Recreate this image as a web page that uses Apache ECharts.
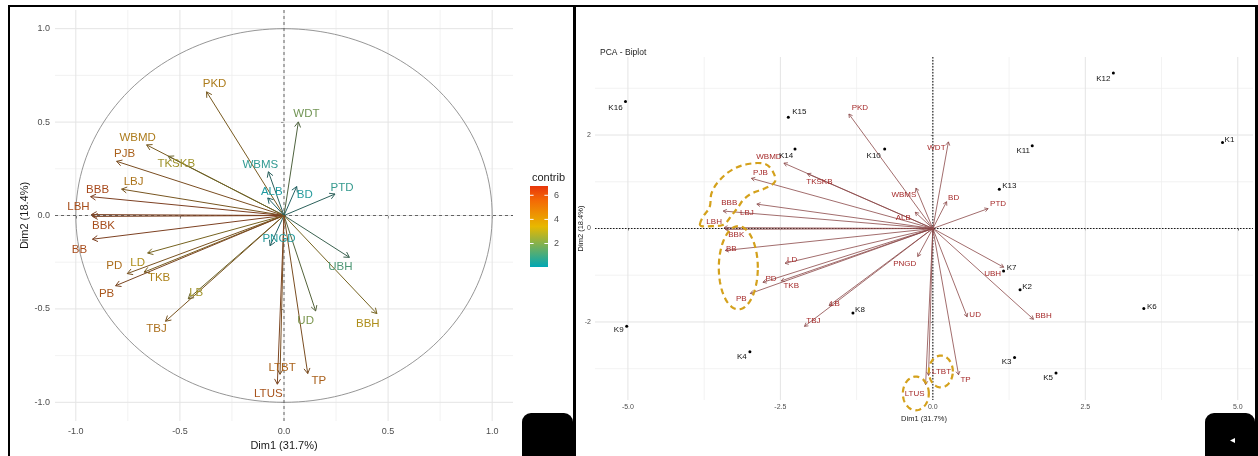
<!DOCTYPE html>
<html><head><meta charset="utf-8">
<script src="https://cdn.jsdelivr.net/npm/echarts@6/dist/echarts.min.js"></script>
<style>html,body{margin:0;padding:0;background:#fff}#c{width:1258px;height:456px}</style>
</head><body><div id="c"></div>
<script>
// ---------------- DATA ----------------
const varNames = ['PKD','WDT','WBMD','TKSKB','PJB','LBJ','BBB','LBH','BBK','WBMS','ALB','BD','PTD','UBH','PNGD','BBH','UD','TP','LTBT','LTUS','BB','LD','PD','TKB','PB','LB','TBJ'];
const varDim1 = [-0.372,0.069,-0.660,-0.556,-0.804,-0.780,-0.929,-0.925,-0.920,-0.075,-0.078,0.061,0.245,0.314,-0.067,0.446,0.152,0.114,-0.019,-0.032,-0.920,-0.655,-0.753,-0.672,-0.809,-0.460,-0.569];
const varDim2 = [0.662,0.501,0.378,0.317,0.290,0.141,0.101,0.005,-0.005,0.234,0.094,0.155,0.115,-0.224,-0.162,-0.525,-0.511,-0.846,-0.850,-0.903,-0.127,-0.201,-0.311,-0.303,-0.376,-0.446,-0.566];
const varContrib = [4.3,1.9,4.3,3.0,5.4,4.6,6.5,6.3,6.3,0.45,0.11,0.2,0.54,1.1,0.23,3.5,2.1,5.4,5.3,6.0,6.4,3.5,4.9,4.0,5.9,3.0,4.8];
const biplotVarScale = 3.7;
const indNames = ['K1','K2','K3','K4','K5','K6','K7','K8','K9','K10','K11','K12','K13','K14','K15','K16'];
const indDim1 = [4.75,1.43,1.34,-3.00,2.02,3.46,1.16,-1.31,-5.02,-0.79,1.63,2.96,1.09,-2.26,-2.37,-5.04];
const indDim2 = [1.84,-1.31,-2.76,-2.64,-3.09,-1.71,-0.91,-1.81,-2.09,1.70,1.77,3.33,0.84,1.70,2.38,2.72];
const corTicks = [-1,-0.5,0,0.5,1];
const corMinor = [-0.75,-0.25,0.25,0.75];
const bipXTicks = [-5,-2.5,0,2.5,5];
const bipXMinor = [-3.75,-1.25,1.25,3.75];
const bipYTicks = [-2,0,2];
const bipYMinor = [-3,-1,1,3];
const contribTicks = [2,4,6];
const contribRange = [0.05,6.77];
// annotation outlines (data coords of biplot)
const annotEllipses = [[-3.19,-0.84,0.32,0.89],[0.131,-3.06,0.197,0.34],[-0.279,-3.53,0.213,0.36]];
const annotBlob = [[-3.82,0.09],[-3.77,0.25],[-3.66,0.46],[-3.63,0.75],[-3.52,1.00],[-3.30,1.25],[-3.03,1.38],[-2.75,1.38],[-2.62,1.21],[-2.59,1.00],[-2.75,0.86],[-2.97,0.75],[-3.11,0.61],[-3.19,0.46],[-3.30,0.28],[-3.38,0.14],[-3.46,0.07],[-3.63,0.05],[-3.79,0.05]];

// ---------------- LAYOUT / STYLE ----------------
const labelOffL = {PKD:[8,-8],WDT:[8,-8],WBMD:[-9,-7],TKSKB:[8,8],PJB:[8,-7],LBJ:[12,-7],BBB:[7,-7],LBH:[-13,-8],BBK:[11,9],WBMS:[-8,-7],ALB:[4,-6],BD:[8,8],PTD:[7,-6],UBH:[-9,9],PNGD:[9,-7],BBH:[-9,10],UD:[-10,10],TP:[11,7],LTBT:[2,-6],LTUS:[-9,10],BB:[-13,11],LD:[-10,10],PD:[-13,-8],TKB:[15,6],PB:[-9,8],LB:[8,-6],TBJ:[-9,8]};
const labelOffR = {PKD:[11,-6],WDT:[-12,6],WBMD:[-15,-6],TKSKB:[12,8],PJB:[9,-6],LBJ:[-10,9],BBB:[6,-8],LBH:[-10,-6],BBK:[11,5],BB:[6,-2],LD:[7,-3],PD:[8,-3],TKB:[10,5],PB:[-9,5],LB:[6,-2],TBJ:[9,-6],PNGD:[-13,7],WBMS:[-12,7],ALB:[-12,6],BD:[7,-4],PTD:[10,-5],UBH:[-11,7],BBH:[10,-3],UD:[8,-2],TP:[7,5],LTBT:[13,-4],LTUS:[-11,9]};
const indOff = {K1:[7,-3],K2:[7,-3],K3:[-8,4],K4:[-8,5],K5:[-8,5],K6:[8,-2],K7:[8,-3],K8:[7,-3],K9:[-8,4],K10:[-11,7],K11:[-9,5],K12:[-10,6],K13:[10,-3],K14:[-9,7],K15:[11,-5],K16:[-10,6]};
const FONT = '"Liberation Sans", Arial, Helvetica, sans-serif';
const gradStops = [[0,175,187],[231,184,0],[252,78,7]];
function contribT(c){ return Math.max(0, Math.min(1,(c-contribRange[0])/(contribRange[1]-contribRange[0]))); }
function contribRGB(c){
  const t = contribT(c);
  let a,b,u;
  if (t<0.5){a=gradStops[0];b=gradStops[1];u=t/0.5;} else {a=gradStops[1];b=gradStops[2];u=(t-0.5)/0.5;}
  return [0,1,2].map(k=>a[k]+(b[k]-a[k])*u);
}
function shade(rgb, desat, k){ return 'rgb(' + rgb.map(v=>Math.max(0,Math.min(255,Math.round((v*(1-desat)+128*desat)*k)))).join(',') + ')'; }

function guideRender(xMaj, xMin, yMaj, yMin){
  return function(params, api){
    const cs = params.coordSys; const ch = [];
    const add = (vals, isX, st) => vals.forEach(v => {
      if (isX){ const px = api.coord([v,0])[0]; ch.push({type:'line', shape:{x1:px,y1:cs.y,x2:px,y2:cs.y+cs.height}, style:st}); }
      else { const py = api.coord([0,v])[1]; ch.push({type:'line', shape:{x1:cs.x,y1:py,x2:cs.x+cs.width,y2:py}, style:st}); }
    });
    const minorSt = {stroke:'#efefef', lineWidth:0.8};
    const majorSt = {stroke:'#e4e4e4', lineWidth:1};
    add(xMin,true,minorSt); add(yMin,false,minorSt); add(xMaj,true,majorSt); add(yMaj,false,majorSt);
    return {type:'group', children:ch};
  };
}
function zeroRender(color, dash, lw){
  return function(params, api){
    const cs = params.coordSys; const o = api.coord([0,0]);
    return {type:'group', children:[
      {type:'line', shape:{x1:o[0],y1:cs.y,x2:o[0],y2:cs.y+cs.height}, style:{stroke:color,lineWidth:lw,lineDash:dash}},
      {type:'line', shape:{x1:cs.x,y1:o[1],x2:cs.x+cs.width,y2:o[1]}, style:{stroke:color,lineWidth:lw,lineDash:dash}}
    ]};
  };
}
function arrowRender(opts){
  return function(params, api){
    const i = params.dataIndex;
    const o = api.coord([0,0]);
    const p = api.coord([api.value(0), api.value(1)]);
    const ang = Math.atan2(p[1]-o[1], p[0]-o[0]);
    const h = opts.head, w = Math.PI/6;
    const h1 = [p[0]-h*Math.cos(ang-w), p[1]-h*Math.sin(ang-w)];
    const h2 = [p[0]-h*Math.cos(ang+w), p[1]-h*Math.sin(ang+w)];
    const name = varNames[i];
    const off = opts.offs[name] || [0,0];
    const lc = opts.lineColor(i), tc = opts.textColor(i);
    return {type:'group', children:[
      {type:'line', shape:{x1:o[0],y1:o[1],x2:p[0],y2:p[1]}, style:{stroke:lc,lineWidth:opts.lw}},
      {type:'polyline', shape:{points:[h1,p,h2]}, style:{stroke:lc,fill:'none',lineWidth:opts.lw}},
      {type:'text', z2:20, style:{x:p[0]+off[0], y:p[1]+off[1], text:name, fill:tc, font:opts.font, textAlign:'center', textVerticalAlign:'middle', align:'center', verticalAlign:'middle'}}
    ]};
  };
}

const chart = echarts.init(document.getElementById('c'), null, {renderer:'canvas'});
const axisTxt = (size) => ({color:'#4d4d4d', fontSize:size, fontFamily:FONT});

const option = {
  animation:false,
  backgroundColor:'#fff',
  title:[
    {text:'PCA - Biplot', left:595, top:43, textStyle:{fontSize:8.5, fontWeight:'normal', color:'#222', fontFamily:FONT}},
    {text:'contrib', left:527, top:167, textStyle:{fontSize:11, fontWeight:'normal', color:'#222', fontFamily:FONT}}
  ],
  grid:[
    {left:55, top:10, width:458, height:417},
    {left:530, top:186, width:18, height:81},
    {left:595, top:57, width:658, height:343}
  ],
  xAxis:[
    {gridIndex:0, type:'value', min:-1.1, max:1.1, splitLine:{show:false}, axisLine:{show:false},
     axisTick:{show:true, customValues:corTicks, length:3, lineStyle:{color:'#333'}},
     axisLabel:{customValues:corTicks, margin:6, formatter:v=>v.toFixed(1), ...axisTxt(9)},
     name:'Dim1 (31.7%)', nameLocation:'middle', nameGap:16, nameMoveOverlap:false, nameTextStyle:{fontSize:11, color:'#1a1a1a', fontFamily:FONT, verticalAlign:'top', padding:[3,0,0,0]}},
    {gridIndex:1, type:'value', min:0, max:1, show:false},
    {gridIndex:2, type:'value', min:-5.54, max:5.25, splitLine:{show:false}, axisLine:{show:false},
     axisTick:{show:true, customValues:bipXTicks, length:2, lineStyle:{color:'#333'}},
     axisLabel:{customValues:bipXTicks, margin:4, formatter:v=>v.toFixed(1), ...axisTxt(7)},
     name:'Dim1 (31.7%)', nameLocation:'middle', nameGap:15, nameMoveOverlap:false, nameTextStyle:{fontSize:7.5, color:'#1a1a1a', fontFamily:FONT, verticalAlign:'top'}}
  ],
  yAxis:[
    {gridIndex:0, type:'value', min:-1.1, max:1.1, splitLine:{show:false}, axisLine:{show:false},
     axisTick:{show:true, customValues:corTicks, length:3, lineStyle:{color:'#333'}},
     axisLabel:{customValues:corTicks, margin:5, formatter:v=>v.toFixed(1), ...axisTxt(9)},
     name:'Dim2 (18.4%)', nameLocation:'middle', nameGap:25, nameRotate:90, nameMoveOverlap:false, nameTextStyle:{fontSize:11, color:'#1a1a1a', fontFamily:FONT}},
    {gridIndex:1, type:'value', min:contribRange[0], max:contribRange[1], position:'right', splitLine:{show:false}, axisLine:{show:false}, axisTick:{show:false},
     axisLabel:{customValues:contribTicks, margin:6, ...axisTxt(9)}},
    {gridIndex:2, type:'value', min:-3.67, max:3.67, splitLine:{show:false}, axisLine:{show:false},
     axisTick:{show:true, customValues:bipYTicks, length:2, lineStyle:{color:'#333'}},
     axisLabel:{customValues:bipYTicks, margin:4, ...axisTxt(7)},
     name:'Dim2 (18.4%)', nameLocation:'middle', nameGap:10, nameRotate:90, nameMoveOverlap:false, nameTextStyle:{fontSize:7.5, color:'#1a1a1a', fontFamily:FONT}}
  ],
  series:[
    {type:'custom', xAxisIndex:0, yAxisIndex:0, z:1, silent:true, data:[[0,0]], renderItem:guideRender(corTicks,corMinor,corTicks,corMinor)},
    {type:'custom', xAxisIndex:0, yAxisIndex:0, z:2, silent:true, data:[[0,0]],
     renderItem:(params, api)=>{ const pts=[]; for(let k=0;k<=360;k+=2){const a=k*Math.PI/180; pts.push(api.coord([Math.cos(a),Math.sin(a)]));}
       return {type:'polyline', shape:{points:pts}, style:{stroke:'#8a8a8a', lineWidth:0.9, fill:'none'}}; }},
    {type:'custom', xAxisIndex:0, yAxisIndex:0, z:3, silent:true, data:[[0,0]], renderItem:zeroRender('#555',[3,3],0.9)},
    {type:'custom', xAxisIndex:0, yAxisIndex:0, z:4, silent:true,
     data:varNames.map((n,i)=>[varDim1[i],varDim2[i],varContrib[i]]),
     renderItem:arrowRender({head:6, lw:1, offs:labelOffL, font:'11.5px '+FONT,
       lineColor:i=>shade(contribRGB(varContrib[i]),0.4,0.62),
       textColor:i=>shade(contribRGB(varContrib[i]),0.25,0.95-0.2*contribT(varContrib[i]))})},
    {type:'custom', xAxisIndex:1, yAxisIndex:1, z:4, silent:true, data:[[0,0]],
     renderItem:(params, api)=>{
       const tl = api.coord([0,contribRange[1]]), br = api.coord([1,contribRange[0]]);
       const ch = [{type:'rect', shape:{x:tl[0],y:tl[1],width:br[0]-tl[0],height:br[1]-tl[1]},
         style:{fill:new echarts.graphic.LinearGradient(0,0,0,1,[{offset:0,color:'#e8360a'},{offset:0.18,color:'#f46a05'},{offset:0.5,color:'#e7b800'},{offset:1,color:'#00a7b5'}])}}];
       contribTicks.forEach(v=>{ const y=api.coord([0,v])[1]; const w=(br[0]-tl[0])/5;
         ch.push({type:'line',shape:{x1:tl[0],y1:y,x2:tl[0]+w,y2:y},style:{stroke:'#fff',lineWidth:1}});
         ch.push({type:'line',shape:{x1:br[0]-w,y1:y,x2:br[0],y2:y},style:{stroke:'#fff',lineWidth:1}}); });
       return {type:'group', children:ch}; }},
    {type:'custom', xAxisIndex:2, yAxisIndex:2, z:1, silent:true, data:[[0,0]], renderItem:guideRender(bipXTicks,bipXMinor,bipYTicks,bipYMinor)},
    {type:'custom', xAxisIndex:2, yAxisIndex:2, z:3, silent:true, data:[[0,0]], renderItem:zeroRender('#1a1a1a',[1.5,1.5],1.1)},
    {type:'custom', xAxisIndex:2, yAxisIndex:2, z:4, silent:true,
     data:varNames.map((n,i)=>[varDim1[i]*biplotVarScale,varDim2[i]*biplotVarScale]),
     renderItem:arrowRender({head:4, lw:0.8, offs:labelOffR, font:'8px '+FONT, lineColor:()=> '#8a4848', textColor:()=> '#a52a2a'})},
    {type:'custom', xAxisIndex:2, yAxisIndex:2, z:5, silent:true,
     data:indNames.map((n,i)=>[indDim1[i],indDim2[i]]),
     renderItem:(params, api)=>{ const i=params.dataIndex; const p=api.coord([api.value(0),api.value(1)]); const off=indOff[indNames[i]]||[0,0];
       return {type:'group', children:[
         {type:'circle', shape:{cx:p[0],cy:p[1],r:1.5}, style:{fill:'#000'}},
         {type:'text', style:{x:p[0]+off[0], y:p[1]+off[1], text:indNames[i], fill:'#111', font:'8px '+FONT, textAlign:'center', textVerticalAlign:'middle', align:'center', verticalAlign:'middle'}}
       ]}; }},
    {type:'custom', xAxisIndex:2, yAxisIndex:2, z:6, silent:true, data:[[0,0]],
     renderItem:(params, api)=>{
       const st = {stroke:'#d4a11c', lineWidth:2.2, lineDash:[6,4], fill:'none'};
       const ch = annotEllipses.map(e=>{ const pts=[]; for(let k=0;k<360;k+=5){const a=k*Math.PI/180; pts.push(api.coord([e[0]+e[2]*Math.cos(a), e[1]+e[3]*Math.sin(a)]));}
         return {type:'polygon', shape:{points:pts}, style:st}; });
       ch.push({type:'polygon', shape:{points:annotBlob.map(q=>api.coord(q)), smooth:0.35}, style:st});
       return {type:'group', children:ch}; }}
  ],
  graphic:[
    {type:'rect', shape:{x:8,y:5,width:1250,height:2}, style:{fill:'#000'}, z:100},
    {type:'rect', shape:{x:8,y:5,width:2,height:451}, style:{fill:'#000'}, z:100},
    {type:'rect', shape:{x:573,y:5,width:3,height:451}, style:{fill:'#000'}, z:100},
    {type:'rect', shape:{x:1255,y:5,width:3,height:451}, style:{fill:'#000'}, z:100},
    {type:'rect', shape:{x:522,y:413,width:51,height:50,r:[9,9,0,0]}, style:{fill:'#000'}, z:100},
    {type:'rect', shape:{x:1205,y:413,width:50,height:50,r:[9,9,0,0]}, style:{fill:'#000'}, z:100},
    {type:'polygon', shape:{points:[[1230,440.5],[1235,438],[1235,443]]}, style:{fill:'#fff'}, z:101}
  ]
};
chart.setOption(option);
</script>
</body></html>
